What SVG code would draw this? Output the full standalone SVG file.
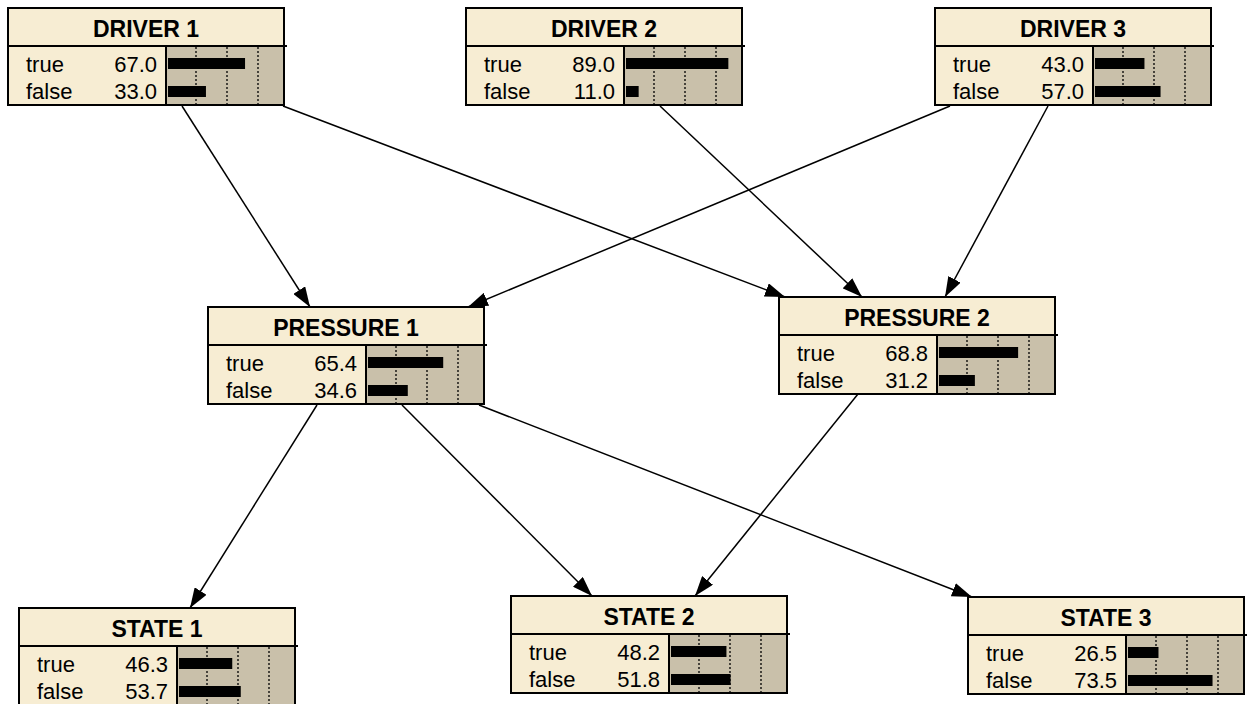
<svg xmlns="http://www.w3.org/2000/svg" width="1249" height="704" viewBox="0 0 1249 704">
<defs>
<marker id="ah" markerUnits="userSpaceOnUse" markerWidth="20" markerHeight="14" refX="20" refY="7" orient="auto"><path d="M0,0 L20,7 L0,14 z" fill="#000"/></marker>
</defs>
<style>
.bg{fill:#F7EDD3;stroke:none}
.bars{fill:#C9C0AA;stroke:none}
.frame{fill:none;stroke:#000;stroke-width:2}
.ln{stroke:#000;stroke-width:2}
.grid{stroke:#000;stroke-width:1.3;stroke-dasharray:2 2}
.bar{fill:#000}
.title{font-family:"Liberation Sans",Arial,sans-serif;font-weight:bold;font-size:23px;text-anchor:middle;fill:#000}
.lbl{font-family:"Liberation Sans",Arial,sans-serif;font-size:22px;fill:#000}
.val{font-family:"Liberation Sans",Arial,sans-serif;font-size:22px;fill:#000;text-anchor:end}
.edge{stroke:#000;stroke-width:1.5;fill:none;marker-end:url(#ah)}
</style>
<g id="connectors">
<line class="edge" x1="182" y1="106" x2="310" y2="307"/>
<line class="edge" x1="283" y1="106" x2="785" y2="297"/>
<line class="edge" x1="660" y1="106" x2="862" y2="297"/>
<line class="edge" x1="1048" y1="106" x2="945" y2="297"/>
<line class="edge" x1="950" y1="106" x2="468" y2="307"/>
<line class="edge" x1="317" y1="405" x2="190" y2="608"/>
<line class="edge" x1="402" y1="405" x2="592" y2="596"/>
<line class="edge" x1="858" y1="394" x2="695" y2="596"/>
<line class="edge" x1="479" y1="405" x2="972" y2="597"/>
</g>
<g id="driver1" transform="translate(8,8)">
<rect class="bg" x="0" y="0" width="276" height="97"/><rect class="bars" x="158" y="38" width="118" height="59"/>
<line class="grid" x1="188" y1="39" x2="188" y2="96"/><line class="grid" x1="219" y1="39" x2="219" y2="96"/><line class="grid" x1="250" y1="39" x2="250" y2="96"/>
<rect class="bar" x="160" y="50" width="77.05" height="11"/><rect class="bar" x="160" y="78" width="37.95" height="11"/>
<rect class="frame" x="0" y="0" width="276" height="97"/><line class="ln" x1="0" y1="38" x2="279" y2="38"/><line class="ln" x1="158" y1="38" x2="158" y2="97"/>
<text class="title" x="138" y="29">DRIVER 1</text>
<text class="lbl" x="18" y="64">true</text><text class="val" x="149" y="64">67.0</text>
<text class="lbl" x="18" y="91">false</text><text class="val" x="149" y="91">33.0</text>
</g>
<g id="driver2" transform="translate(466,8)">
<rect class="bg" x="0" y="0" width="276" height="97"/><rect class="bars" x="158" y="38" width="118" height="59"/>
<line class="grid" x1="188" y1="39" x2="188" y2="96"/><line class="grid" x1="219" y1="39" x2="219" y2="96"/><line class="grid" x1="250" y1="39" x2="250" y2="96"/>
<rect class="bar" x="160" y="50" width="102.35" height="11"/><rect class="bar" x="160" y="78" width="12.65" height="11"/>
<rect class="frame" x="0" y="0" width="276" height="97"/><line class="ln" x1="0" y1="38" x2="279" y2="38"/><line class="ln" x1="158" y1="38" x2="158" y2="97"/>
<text class="title" x="138" y="29">DRIVER 2</text>
<text class="lbl" x="18" y="64">true</text><text class="val" x="149" y="64">89.0</text>
<text class="lbl" x="18" y="91">false</text><text class="val" x="149" y="91">11.0</text>
</g>
<g id="driver3" transform="translate(935,8)">
<rect class="bg" x="0" y="0" width="276" height="97"/><rect class="bars" x="158" y="38" width="118" height="59"/>
<line class="grid" x1="188" y1="39" x2="188" y2="96"/><line class="grid" x1="219" y1="39" x2="219" y2="96"/><line class="grid" x1="250" y1="39" x2="250" y2="96"/>
<rect class="bar" x="160" y="50" width="49.45" height="11"/><rect class="bar" x="160" y="78" width="65.55" height="11"/>
<rect class="frame" x="0" y="0" width="276" height="97"/><line class="ln" x1="0" y1="38" x2="279" y2="38"/><line class="ln" x1="158" y1="38" x2="158" y2="97"/>
<text class="title" x="138" y="29">DRIVER 3</text>
<text class="lbl" x="18" y="64">true</text><text class="val" x="149" y="64">43.0</text>
<text class="lbl" x="18" y="91">false</text><text class="val" x="149" y="91">57.0</text>
</g>
<g id="pressure1" transform="translate(208,307)">
<rect class="bg" x="0" y="0" width="276" height="97"/><rect class="bars" x="158" y="38" width="118" height="59"/>
<line class="grid" x1="188" y1="39" x2="188" y2="96"/><line class="grid" x1="219" y1="39" x2="219" y2="96"/><line class="grid" x1="250" y1="39" x2="250" y2="96"/>
<rect class="bar" x="160" y="50" width="75.21" height="11"/><rect class="bar" x="160" y="78" width="39.79" height="11"/>
<rect class="frame" x="0" y="0" width="276" height="97"/><line class="ln" x1="0" y1="38" x2="279" y2="38"/><line class="ln" x1="158" y1="38" x2="158" y2="97"/>
<text class="title" x="138" y="29">PRESSURE 1</text>
<text class="lbl" x="18" y="64">true</text><text class="val" x="149" y="64">65.4</text>
<text class="lbl" x="18" y="91">false</text><text class="val" x="149" y="91">34.6</text>
</g>
<g id="pressure2" transform="translate(779,297)">
<rect class="bg" x="0" y="0" width="276" height="97"/><rect class="bars" x="158" y="38" width="118" height="59"/>
<line class="grid" x1="188" y1="39" x2="188" y2="96"/><line class="grid" x1="219" y1="39" x2="219" y2="96"/><line class="grid" x1="250" y1="39" x2="250" y2="96"/>
<rect class="bar" x="160" y="50" width="79.12" height="11"/><rect class="bar" x="160" y="78" width="35.88" height="11"/>
<rect class="frame" x="0" y="0" width="276" height="97"/><line class="ln" x1="0" y1="38" x2="279" y2="38"/><line class="ln" x1="158" y1="38" x2="158" y2="97"/>
<text class="title" x="138" y="29">PRESSURE 2</text>
<text class="lbl" x="18" y="64">true</text><text class="val" x="149" y="64">68.8</text>
<text class="lbl" x="18" y="91">false</text><text class="val" x="149" y="91">31.2</text>
</g>
<g id="state1" transform="translate(19,608)">
<rect class="bg" x="0" y="0" width="276" height="97"/><rect class="bars" x="158" y="38" width="118" height="59"/>
<line class="grid" x1="188" y1="39" x2="188" y2="96"/><line class="grid" x1="219" y1="39" x2="219" y2="96"/><line class="grid" x1="250" y1="39" x2="250" y2="96"/>
<rect class="bar" x="160" y="50" width="53.25" height="11"/><rect class="bar" x="160" y="78" width="61.76" height="11"/>
<rect class="frame" x="0" y="0" width="276" height="97"/><line class="ln" x1="0" y1="38" x2="279" y2="38"/><line class="ln" x1="158" y1="38" x2="158" y2="97"/>
<text class="title" x="138" y="29">STATE 1</text>
<text class="lbl" x="18" y="64">true</text><text class="val" x="149" y="64">46.3</text>
<text class="lbl" x="18" y="91">false</text><text class="val" x="149" y="91">53.7</text>
</g>
<g id="state2" transform="translate(511,596)">
<rect class="bg" x="0" y="0" width="276" height="97"/><rect class="bars" x="158" y="38" width="118" height="59"/>
<line class="grid" x1="188" y1="39" x2="188" y2="96"/><line class="grid" x1="219" y1="39" x2="219" y2="96"/><line class="grid" x1="250" y1="39" x2="250" y2="96"/>
<rect class="bar" x="160" y="50" width="55.43" height="11"/><rect class="bar" x="160" y="78" width="59.57" height="11"/>
<rect class="frame" x="0" y="0" width="276" height="97"/><line class="ln" x1="0" y1="38" x2="279" y2="38"/><line class="ln" x1="158" y1="38" x2="158" y2="97"/>
<text class="title" x="138" y="29">STATE 2</text>
<text class="lbl" x="18" y="64">true</text><text class="val" x="149" y="64">48.2</text>
<text class="lbl" x="18" y="91">false</text><text class="val" x="149" y="91">51.8</text>
</g>
<g id="state3" transform="translate(968,597)">
<rect class="bg" x="0" y="0" width="276" height="97"/><rect class="bars" x="158" y="38" width="118" height="59"/>
<line class="grid" x1="188" y1="39" x2="188" y2="96"/><line class="grid" x1="219" y1="39" x2="219" y2="96"/><line class="grid" x1="250" y1="39" x2="250" y2="96"/>
<rect class="bar" x="160" y="50" width="30.48" height="11"/><rect class="bar" x="160" y="78" width="84.53" height="11"/>
<rect class="frame" x="0" y="0" width="276" height="97"/><line class="ln" x1="0" y1="38" x2="279" y2="38"/><line class="ln" x1="158" y1="38" x2="158" y2="97"/>
<text class="title" x="138" y="29">STATE 3</text>
<text class="lbl" x="18" y="64">true</text><text class="val" x="149" y="64">26.5</text>
<text class="lbl" x="18" y="91">false</text><text class="val" x="149" y="91">73.5</text>
</g>
</svg>
